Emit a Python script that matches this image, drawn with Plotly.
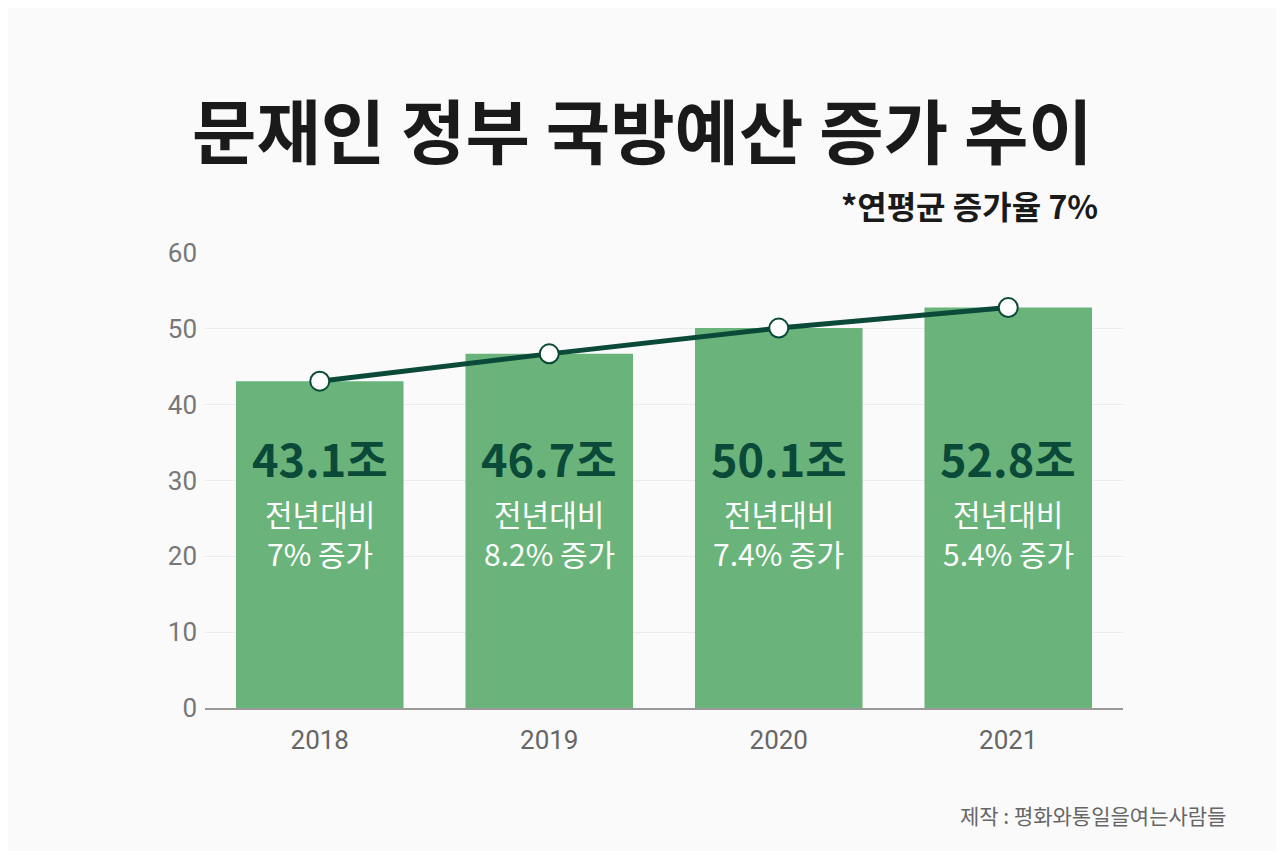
import plotly.graph_objects as go

# 데이터
years = ["2018", "2019", "2020", "2021"]
budget = [43.1, 46.7, 50.1, 52.8]
growth = ["7%", "8.2%", "7.4%", "5.4%"]
y_ticks = [0, 10, 20, 30, 40, 50, 60]

bar_color = "#6ab47b"
dark = "#0b4a38"
kr = "Noto Sans CJK KR"

# 페이지 여백(8px) 감안한 캔버스 크기와 플롯 영역
W, H = 1268, 843
L, R, T, B = 197, 153, 245, 143
OFF = 8


def to_paper(px, py):
    # 화면 픽셀 -> 플롯영역 paper 좌표
    x = (px - OFF - L) / (W - L - R)
    y = (H - B - (py - OFF)) / (H - T - B)
    return x, y


fig = go.Figure()

fig.add_trace(go.Bar(
    x=years, y=budget,
    marker=dict(color=bar_color, line=dict(width=0)),
    hoverinfo="skip",
))

fig.add_trace(go.Scatter(
    x=years, y=budget,
    mode="lines+markers",
    line=dict(color=dark, width=5),
    marker=dict(size=19, color="white", line=dict(color=dark, width=2)),
    hoverinfo="skip",
))

# 막대 안쪽 라벨 (카테고리 축이라 인덱스로 위치 지정)
for i, (val, g) in enumerate(zip(budget, growth)):
    fig.add_annotation(x=i, y=33, xref="x", yref="y", text=f"<b>{val}조</b>",
                       showarrow=False, font=dict(family=kr, size=45, color=dark))
    fig.add_annotation(x=i, y=25.7, xref="x", yref="y", text="전년대비",
                       showarrow=False, font=dict(family=kr, size=30, color="white"))
    fig.add_annotation(x=i, y=20.4, xref="x", yref="y", text=f"{g} 증가",
                       showarrow=False, font=dict(family=kr, size=30, color="white"))

# 제목, 부제, 출처
x, y = to_paper(642, 128)
fig.add_annotation(
    x=x, y=y, xref="paper", yref="paper",
    xanchor="center", yanchor="middle", showarrow=False,
    text="<b>문재인 정부 국방예산 증가 추이</b>",
    font=dict(family=kr, size=70, color="#1a1a1a"),
)
x, y = to_paper(1100, 205)
fig.add_annotation(
    x=x, y=y, xref="paper", yref="paper",
    xanchor="right", yanchor="middle", showarrow=False,
    text="<b>*연평균 증가율 7%</b>",
    font=dict(family=kr, size=32, color="#1a1a1a"),
)
x, y = to_paper(1228, 815)
fig.add_annotation(
    x=x, y=y, xref="paper", yref="paper",
    xanchor="right", yanchor="middle", showarrow=False,
    text="제작 : 평화와통일을여는사람들",
    font=dict(family=kr, size=21, color="#666666"),
)

fig.update_layout(
    width=W, height=H,
    margin=dict(l=L, r=R, t=T, b=B),
    paper_bgcolor="#fafafa",
    plot_bgcolor="#fafafa",
    showlegend=False,
    bargap=0.27,
    font=dict(family="Roboto", color="#777777"),
    xaxis=dict(
        type="category",
        showgrid=False, tickfont=dict(size=26, color="#666666"),
        showline=True, linecolor="#999999", linewidth=2,
        ticks="", ticklen=0, ticklabelstandoff=8,
    ),
    yaxis=dict(
        range=[0, 60], tickvals=y_ticks, tickfont=dict(size=26, color="#777777"),
        showgrid=True, gridcolor="#ebebeb", gridwidth=1,
        zeroline=False, ticks="", ticklabelstandoff=7,
    ),
)

fig.write_html("out.html")
